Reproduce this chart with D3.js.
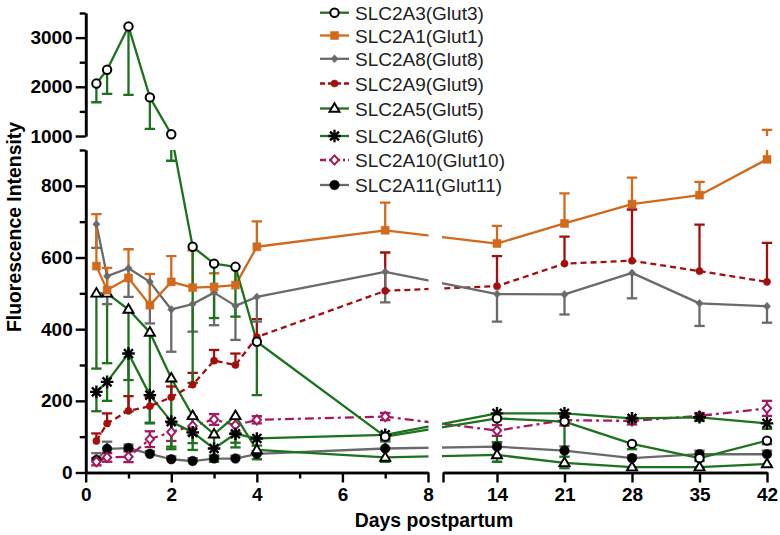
<!DOCTYPE html>
<html><head><meta charset="utf-8">
<script src="https://cdn.jsdelivr.net/npm/d3@7"></script>
<style>body{margin:0;background:#fff}svg{display:block}</style>
</head><body><svg id="c" width="780" height="535"></svg>
<script>
// ---------------- DATA ----------------
const days = [0.25, 0.5, 1, 1.5, 2, 2.5, 3, 3.5, 4, 7, 14, 21, 28, 35, 42];
const seriesNames = ["SLC2A3(Glut3)", "SLC2A1(Glut1)", "SLC2A8(Glut8)", "SLC2A9(Glut9)",
                     "SLC2A5(Glut5)", "SLC2A6(Glut6)", "SLC2A10(Glut10)", "SLC2A11(Glut11)"];
const glut3    = [2066, 2346, 3227, 1785, 1035, 630, 583, 574, 365, 100, 151, 142, 80, 40, 89];
const glut3Err = [380, 490, 1390, 640, 165, 380, 152, 139, 149, 10, 66, 98, 15, 8, 10];
const glut1    = [576, 509, 543, 467, 532, 516, 518, 523, 630, 676, 639, 695, 749, 774, 874];
const glut1Err = [145, 62, 80, 87, 72, 104, 38, 53, 71, 77, 49, 84, 74, 37, 249];
const glut8    = [693, 548, 570, 532, 455, 470, 502, 465, 490, 560, 498, 497, 557, 472, 464];
const glut8Err = [66, 78, 80, 116, 118, 77, 91, 95, 69, 85, 77, 56, 71, 63, 46];
const glut9    = [88, 137, 172, 185, 210, 245, 312, 300, 378, 507, 520, 583, 591, 562, 532];
const glut9Err = [21, 28, 41, 25, 30, 33, 30, 32, 50, 107, 84, 75, 143, 130, 109];
const glut5    = [500, 500, 455, 391, 263, 158, 107, 158, 63, 42, 49, 27, 15, 15, 24];
const glut5Err = [210, 195, 197, 254, 198, 95, 77, 88, 26, 12, 19, 15, 5, 5, 5];
const glut6    = [225, 253, 332, 216, 142, 112, 67, 108, 95, 105, 165, 165, 151, 154, 137];
const glut6Err = [54, 53, 162, 77, 70, 30, 20, 25, 20, 10, 10, 10, 10, 10, 15];
const glut10    = [30, 42, 44, 93, 113, 130, 148, 132, 147, 156, 117, 146, 144, 158, 179];
const glut10Err = [10, 12, 15, 22, 25, 25, 15, 20, 10, 10, 15, 15, 10, 8, 21];
const glut11    = [35, 66, 68, 52, 37, 32, 39, 39, 52, 67, 72, 61, 40, 51, 51];
const glut11Err = [19, 20, 10, 8, 8, 8, 8, 8, 8, 19, 10, 12, 8, 10, 10];
const yTicksLow = [0, 200, 400, 600, 800];
const yMinorLow = [100, 300, 500, 700, 900];
const yTicksHigh = [1000, 2000, 3000];
const yMinorHigh = [1500, 2500, 3500];
const xTicksLeft = [0, 2, 4, 6, 8];
const xMinorLeft = [1, 3, 5, 7];
const xTicksRight = [14, 21, 28, 35, 42];
const xLabel = "Days postpartum";
const yLabel = "Fluorescence Intensity";

// ---------------- STYLES ----------------
const GREEN = "#1d721d", ORANGE = "#d2691b", GRAY = "#6a6a6a", RED = "#a30e0e", MAG = "#a31a5e";
const FONT = "'Liberation Sans', Arial, sans-serif";

const circ = { draw(c, r) { c.moveTo(r, 0); c.arc(0, 0, r, 0, 2 * Math.PI); } };
const sq = { draw(c, r) { c.rect(-r, -r, 2 * r, 2 * r); } };
const diam = { draw(c, r) { c.moveTo(0, -r); c.lineTo(r * 0.9, 0); c.lineTo(0, r); c.lineTo(-r * 0.9, 0); c.closePath(); } };
const tri = { draw(c, r) { c.moveTo(0, -r); c.lineTo(r * 0.95, r * 0.62); c.lineTo(-r * 0.95, r * 0.62); c.closePath(); } };
const star = { draw(c, r) { for (let k = 0; k < 4; k++) { const a = k * Math.PI / 4; c.moveTo(r * Math.cos(a), r * Math.sin(a)); c.lineTo(-r * Math.cos(a), -r * Math.sin(a)); } } };

const series = [
  { name: seriesNames[0], vals: glut3, err: glut3Err, dir: "down", color: GREEN, dash: null, ldash: null, sym: circ, size: 4.2, fill: "#fff", stroke: "#000", sw: 2 },
  { name: seriesNames[1], vals: glut1, err: glut1Err, dir: "up", color: ORANGE, dash: null, ldash: null, sym: sq, size: 4, fill: ORANGE, stroke: ORANGE, sw: 0.5 },
  { name: seriesNames[2], vals: glut8, err: glut8Err, dir: "down", color: GRAY, dash: null, ldash: null, sym: diam, size: 4, fill: GRAY, stroke: GRAY, sw: 0.5 },
  { name: seriesNames[3], vals: glut9, err: glut9Err, dir: "up", color: RED, dash: "6,4", ldash: "5,3", sym: circ, size: 3.6, fill: RED, stroke: RED, sw: 0.5 },
  { name: seriesNames[4], vals: glut5, err: glut5Err, dir: "down", color: GREEN, dash: null, ldash: null, sym: tri, size: 5.3, fill: "#fff", stroke: "#000", sw: 1.9 },
  { name: seriesNames[5], vals: glut6, err: glut6Err, dir: "down", color: GREEN, dash: null, ldash: null, sym: star, size: 6.3, fill: "none", stroke: "#000", sw: 2.4 },
  { name: seriesNames[6], vals: glut10, err: glut10Err, dir: "both", color: MAG, dash: "9,4,3,4", ldash: "6,3,2,3", sym: diam, size: 4.6, fill: "#fff", stroke: MAG, sw: 2 },
  { name: seriesNames[7], vals: glut11, err: glut11Err, dir: "up", color: GRAY, dash: null, ldash: null, sym: circ, size: 4.8, fill: "#000", stroke: "#000", sw: 0.5 }
];

// ---------------- SCALES ----------------
const X_L0 = 85.7, X_L1 = 428, X_R0 = 443, X_R1 = 767;
const Y0 = 472.5, Y_LTOP = 150, Y_UBOT = 136, Y_UTOP = 13;
const xL = d3.scaleLinear().domain([0, 8]).range([X_L0, X_L1]);
const xR = d3.scaleLinear().domain([8.4, 42]).range([X_R0, X_R1]);
const x = d3.scaleLinear().domain([0, 8, 8.4, 42]).range([X_L0, X_L1, X_R0, X_R1]);
const yLo = d3.scaleLinear().domain([0, 900]).range([Y0, Y_LTOP]);
const yHi = d3.scaleLinear().domain([1000, 3500]).range([Y_UBOT, Y_UTOP]);
const y = d3.scaleLinear().domain([0, 900, 1000, 3500]).range([Y0, Y_LTOP, Y_UBOT, Y_UTOP]);

const svg = d3.select("#c");
svg.append("rect").attr("width", 780).attr("height", 535).attr("fill", "#fff");

// clip: union of the four panels (broken axes)
const cp = svg.append("defs").append("clipPath").attr("id", "pc");
[[60, 428.5], [442, 780]].forEach(([a, b]) => {
  [[0, Y_UBOT], [Y_LTOP, 480]].forEach(([c, d]) => {
    cp.append("rect").attr("x", a).attr("y", c).attr("width", b - a).attr("height", d - c);
  });
});

// ---------------- AXES ----------------
function styleAxis(g) {
  g.select(".domain").attr("stroke", "#000").attr("stroke-width", 2.6);
  g.selectAll(".tick line").attr("stroke", "#000").attr("stroke-width", 2.4);
  g.selectAll(".tick text").attr("font-family", FONT).attr("font-weight", "bold")
    .attr("font-size", 19).attr("fill", "#000");
}
function addAxis(axis, tx, ty) {
  const g = svg.append("g").attr("transform", `translate(${tx},${ty})`).call(axis);
  styleAxis(g);
  return g;
}
addAxis(d3.axisLeft(yLo).tickValues(yMinorLow).tickSize(6).tickSizeOuter(0).tickFormat(""), X_L0, 0);
addAxis(d3.axisLeft(yLo).tickValues(yTicksLow).tickSize(10).tickPadding(3).tickSizeOuter(0).tickFormat(d3.format("d")), X_L0, 0);
addAxis(d3.axisLeft(yHi).tickValues(yMinorHigh).tickSize(6).tickSizeOuter(0).tickFormat(""), X_L0, 0);
addAxis(d3.axisLeft(yHi).tickValues(yTicksHigh).tickSize(10).tickPadding(3).tickSizeOuter(0).tickFormat(d3.format("d")), X_L0, 0);
addAxis(d3.axisBottom(xL).tickValues(xMinorLeft).tickSize(6).tickSizeOuter(0).tickFormat(""), 0, Y0);
addAxis(d3.axisBottom(xL).tickValues(xTicksLeft).tickSize(10).tickPadding(5).tickSizeOuter(0).tickFormat(d3.format("d")), 0, Y0);
addAxis(d3.axisBottom(xR).tickValues([8.4]).tickSize(10).tickSizeOuter(0).tickFormat(""), 0, Y0);
addAxis(d3.axisBottom(xR).tickValues(xTicksRight).tickSize(10).tickPadding(5).tickSizeOuter(0).tickFormat(d3.format("d")), 0, Y0);

svg.append("text").attr("x", 434).attr("y", 527).attr("text-anchor", "middle")
  .attr("font-family", FONT).attr("font-weight", "bold").attr("font-size", 19.4).text(xLabel);
svg.append("text").attr("transform", "translate(21,227) rotate(-90)").attr("text-anchor", "middle")
  .attr("font-family", FONT).attr("font-weight", "bold").attr("font-size", 19.4).text(yLabel);

// ---------------- DATA MARKS ----------------
const plot = svg.append("g").attr("clip-path", "url(#pc)");
const line = d3.line().x(d => x(d[0])).y(d => y(d[1]));
const CAP = 5.2;
const drawOrder = series.slice().reverse();

drawOrder.forEach(s => {
  const g = plot.append("g");
  const pts = days.map((d, i) => [d, s.vals[i], s.err[i]]);
  pts.forEach(([d, v, e]) => {
    const ends = [];
    if (s.dir === "up" || s.dir === "both") ends.push(v + e);
    if (s.dir === "down" || s.dir === "both") ends.push(v - e);
    ends.forEach(t => {
      g.append("line").attr("x1", x(d)).attr("x2", x(d)).attr("y1", y(v)).attr("y2", y(t))
        .attr("stroke", s.color).attr("stroke-width", 2.3);
      g.append("line").attr("x1", x(d) - CAP).attr("x2", x(d) + CAP).attr("y1", y(t)).attr("y2", y(t))
        .attr("stroke", s.color).attr("stroke-width", 2.3);
    });
  });
  g.append("path").datum(pts).attr("d", line).attr("fill", "none")
    .attr("stroke", s.color).attr("stroke-width", 2.3).attr("stroke-dasharray", s.dash)
    .attr("stroke-linejoin", "round");
});

const markers = svg.append("g");
drawOrder.forEach(s => {
  const sym = d3.symbol().type(s.sym).size(s.size);
  markers.append("g").selectAll("path").data(days.map((d, i) => [d, s.vals[i]])).join("path")
    .attr("transform", d => `translate(${x(d[0])},${y(d[1])})`)
    .attr("d", sym).attr("fill", s.fill).attr("stroke", s.stroke).attr("stroke-width", s.sw);
});

// ---------------- LEGEND ----------------
const LX0 = 320, LX1 = 349, LTX = 355;
const legRowY = [12.7, 35.5, 58.8, 83.5, 108.5, 136, 160, 185];
const leg = svg.append("g");
series.forEach((s, i) => {
  const cy = legRowY[i];
  leg.append("line").attr("x1", LX0).attr("x2", LX1).attr("y1", cy).attr("y2", cy)
    .attr("stroke", s.color).attr("stroke-width", 2.3).attr("stroke-dasharray", s.ldash);
  leg.append("path").attr("transform", `translate(${(LX0 + LX1) / 2},${cy})`)
    .attr("d", d3.symbol().type(s.sym).size(s.size)).attr("fill", s.fill).attr("stroke", s.stroke).attr("stroke-width", s.sw);
  leg.append("text").attr("x", LTX).attr("y", cy + 7).attr("font-family", FONT).attr("font-size", 19)
    .attr("fill", "#222").text(s.name);
});
</script>
</body></html>
